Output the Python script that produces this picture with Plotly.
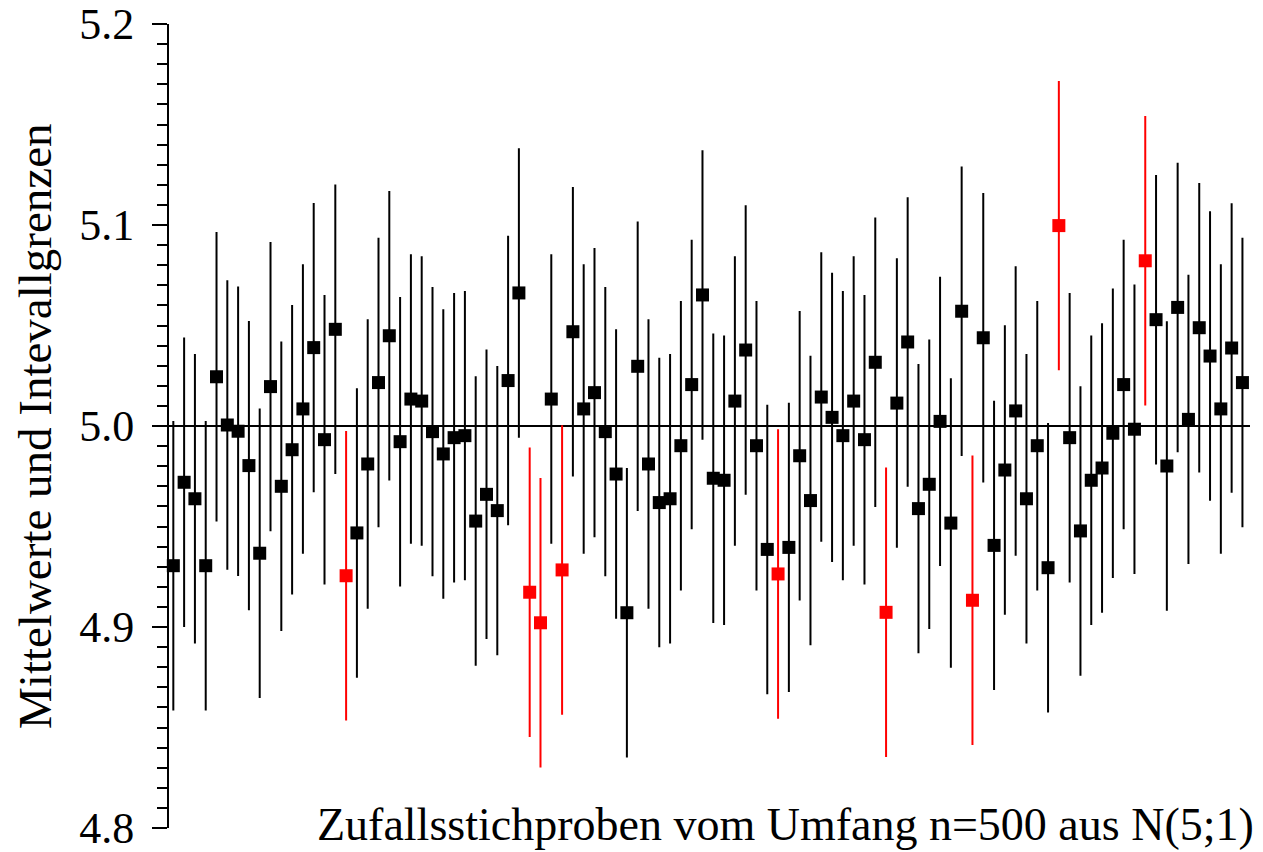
import plotly.graph_objects as go

# Sample means (100 random samples, n=500, from N(5;1))
means = [
    4.9305, 4.9720, 4.9638, 4.9305, 5.0245, 5.0005, 4.9974, 4.9803, 4.9367, 5.0196,
    4.9700, 4.9882, 5.0085, 5.0390, 4.9932, 5.0481, 4.9255, 4.9468, 4.9811, 5.0216,
    5.0449, 4.9922, 5.0134, 5.0124, 4.9972, 4.9861, 4.9942, 4.9952, 4.9527, 4.9660,
    4.9579, 5.0226, 5.0662, 4.9173, 4.9021, 5.0134, 4.9284, 5.0469, 5.0085, 5.0166,
    4.9972, 4.9761, 4.9071, 5.0297, 4.9811, 4.9619, 4.9638, 4.9902, 5.0206, 5.0652,
    4.9740, 4.9730, 5.0124, 5.0378, 4.9902, 4.9386, 4.9264, 4.9396, 4.9852, 4.9629,
    5.0144, 5.0043, 4.9952, 5.0124, 4.9932, 5.0317, 4.9073, 5.0114, 5.0418, 4.9589,
    4.9710, 5.0023, 4.9517, 5.0571, 4.9133, 5.0439, 4.9406, 4.9781, 5.0075, 4.9638,
    4.9902, 4.9295, 5.0997, 4.9942, 4.9478, 4.9730, 4.9791, 4.9964, 5.0206, 4.9984,
    5.0822, 5.0529, 4.9801, 5.0590, 5.0033, 5.0489, 5.0348, 5.0085, 5.0388, 5.0216,
]
# samples whose interval misses the true mean (drawn red)
red_samples = [17, 34, 35, 37, 57, 67, 75, 83, 91]
ci_half = 0.072   # half-width of the confidence interval
mu = 5.0

ytick_vals = [4.8, 4.9, 5.0, 5.1, 5.2]
ytick_text = ["4.8", "4.9", "5.0", "5.1", "5.2"]
y_title = "Mittelwerte und Intevallgrenzen"
x_title = "Zufallsstichproben vom Umfang n=500 aus N(5;1)"

idx = list(range(1, len(means) + 1))
blk_x = [i for i in idx if i not in red_samples]
blk_y = [means[i - 1] for i in blk_x]
red_x = [i for i in idx if i in red_samples]
red_y = [means[i - 1] for i in red_x]

fig = go.Figure()
for xs, ys, col in [(blk_x, blk_y, "black"), (red_x, red_y, "#ff0000")]:
    fig.add_trace(go.Scatter(
        x=xs, y=ys, mode="markers",
        marker=dict(symbol="square", size=13, color=col, line=dict(width=0)),
        error_y=dict(type="constant", value=ci_half, color=col, thickness=2, width=0),
        showlegend=False, hoverinfo="x+y", cliponaxis=False,
    ))

fig.add_shape(type="line", xref="paper", yref="y", x0=0, x1=1, y0=mu, y1=mu,
              line=dict(color="black", width=2), layer="below")

font = "Liberation Serif, Times New Roman, serif"
fig.update_layout(
    width=1263, height=852,
    margin=dict(l=169, r=13, t=24, b=24, autoexpand=False),
    paper_bgcolor="white", plot_bgcolor="white",
    font=dict(family=font, color="black"),
    xaxis=dict(range=[0.6, 100.7], visible=False, showgrid=False, zeroline=False,
               automargin=False),
    yaxis=dict(
        range=[4.8, 5.2], tickvals=ytick_vals, ticktext=ytick_text,
        ticks="outside", ticklen=15, tickwidth=2, tickcolor="black",
        showline=True, linecolor="black", linewidth=2,
        showgrid=False, zeroline=False, automargin=False,
        ticklabeloverflow="allow", ticklabelstandoff=9,
        tickfont=dict(size=44, family=font, color="black"),
        minor=dict(dtick=0.01, ticks="outside", ticklen=10, tickwidth=2,
                   tickcolor="black", showgrid=False),
    ),
    annotations=[
        dict(text=y_title, xref="paper", yref="paper", x=-0.124, y=0.5,
             xanchor="center", yanchor="middle", textangle=-90, showarrow=False,
             font=dict(size=47, family=font, color="black")),
        dict(text=x_title, xref="paper", yref="paper", x=1.006, y=0.0,
             xanchor="right", yanchor="middle", showarrow=False, yshift=4,
             font=dict(size=46, family=font, color="black")),
    ],
)

fig.write_html("out.html", post_script="document.body.style.margin='0px';",
               config={"displayModeBar": False})
